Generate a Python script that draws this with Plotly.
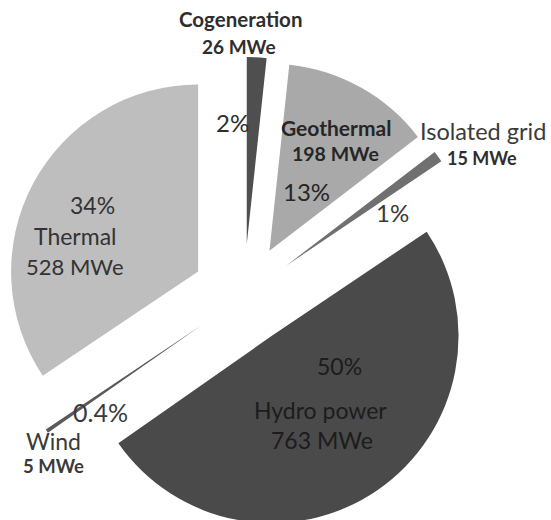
import plotly.graph_objects as go

# Data
sources = ["Cogeneration", "Geothermal", "Isolated grid", "Hydro power", "Wind", "Thermal"]
capacity_mwe = [26, 198, 15, 763, 5, 528]
percent_labels = ["2%", "13%", "1%", "50%", "0.4%", "34%"]

# Styling
colors = ["#4f4f4f", "#a9a9a9", "#707070", "#4a4a4a", "#5a5a5a", "#bebebe"]
pulls = [0.278, 0.278, 0.278, 0.26, 0.278, 0.278]
FONT = "Lato"

fig = go.Figure()
fig.add_trace(go.Pie(
    labels=sources,
    values=capacity_mwe,
    sort=False,
    direction="clockwise",
    rotation=0,
    pull=pulls,
    marker=dict(colors=colors, line=dict(width=0)),
    textinfo="none",
    hoverinfo="label+value+percent",
    showlegend=False,
))

# label placement (paper coords computed from pixel positions)
W, H = 551, 535
ML, MR, MT, MB = 5, 68, 57, 0
PW, PH = W - ML - MR, H - MT - MB

def px2paper(x, y):
    return (x - ML) / PW, 1 - (y - MT) / PH

dark = "#2e2e2e"
label_specs = [
    # (text, x, y, size, bold, color)
    (sources[0], 240, 19, 20.5, True, dark),
    (f"{capacity_mwe[0]} MWe", 239, 46, 19, True, dark),
    (percent_labels[0], 232, 123, 24, False, dark),
    (sources[1], 336, 128, 21, True, "#262626"),
    (f"{capacity_mwe[1]} MWe", 335, 153, 19.5, True, "#262626"),
    (percent_labels[1], 306, 191, 24, False, "#262626"),
    (sources[2], 483, 131, 23.5, False, "#3a3a3a"),
    (f"{capacity_mwe[2]} MWe", 482, 158, 18, True, dark),
    (percent_labels[2], 392, 212, 24, False, "#3a3a3a"),
    (percent_labels[3], 339, 366, 23, False, "#1c1c1c"),
    (sources[3], 320, 410, 23, False, "#1c1c1c"),
    (f"{capacity_mwe[3]} MWe", 322, 440, 23, False, "#1c1c1c"),
    (percent_labels[4], 100, 412, 25, False, "#3a3a3a"),
    (sources[4], 53, 441, 23, False, "#3a3a3a"),
    (f"{capacity_mwe[4]} MWe", 53, 466, 18.5, True, "#3a3a3a"),
    (percent_labels[5], 92, 205, 23, False, "#333333"),
    (sources[5], 75, 236, 23, False, "#333333"),
    (f"{capacity_mwe[5]} MWe", 75, 266, 22, False, "#333333"),
]

for text, x, y, size, bold, col in label_specs:
    ax, ay = px2paper(x, y)
    fig.add_annotation(
        x=ax, y=ay, xref="paper", yref="paper",
        text=f"<b>{text}</b>" if bold else text,
        showarrow=False, xanchor="center", yanchor="middle",
        font=dict(family=FONT, size=size, color=col),
    )

fig.update_layout(
    width=W, height=H,
    margin=dict(l=ML, r=MR, t=MT, b=MB),
    paper_bgcolor="white",
    plot_bgcolor="white",
)

fig.write_html(
    "out.html",
    config={"displayModeBar": False},
    post_script="document.body.style.margin='0';document.body.style.overflow='hidden';",
)
